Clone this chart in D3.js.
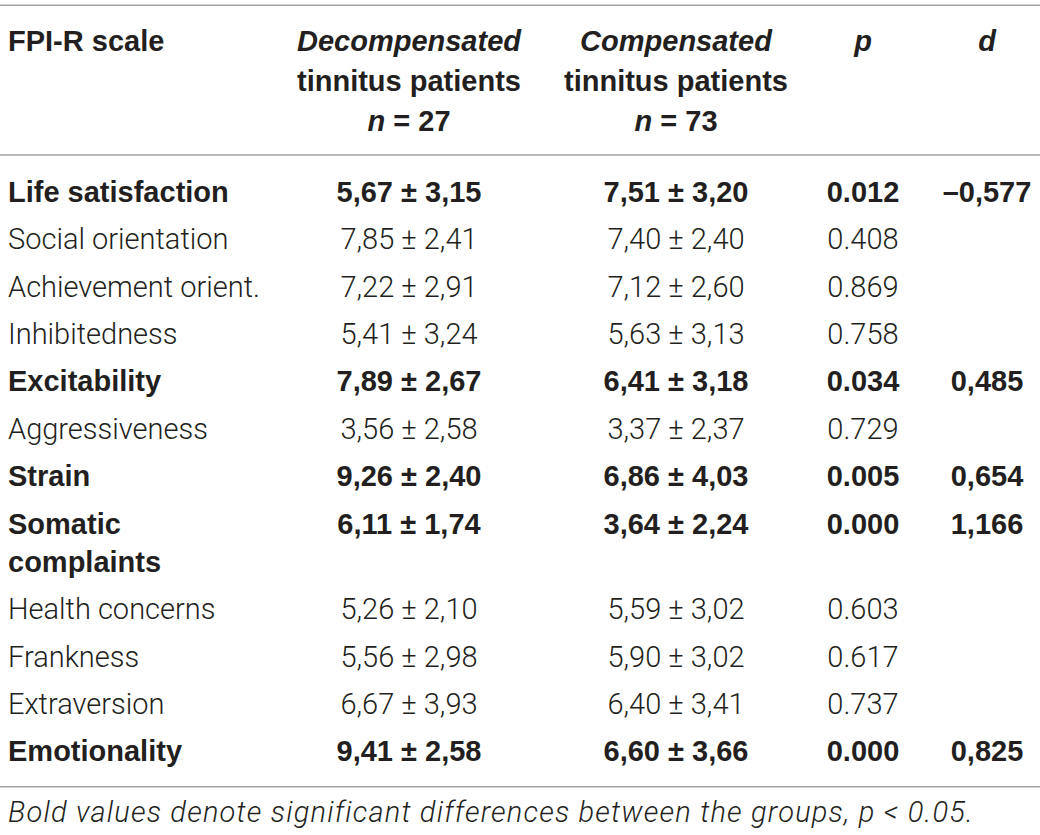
<!DOCTYPE html>
<html>
<head>
<meta charset="utf-8">
<script src="https://cdn.jsdelivr.net/npm/d3@7"></script>
<style>
  body { margin: 0; background: #fff; }
  svg text { font-family: "Liberation Sans", Arial, sans-serif; fill: #231f20; }
  svg .light, svg .light text { font-family: "Roboto", "Liberation Sans", sans-serif; font-weight: 300; }
</style>
</head>
<body>
<div id="table"></div>
<script>
// table content
var scales = ["Life satisfaction", "Social orientation", "Achievement orient.", "Inhibitedness",
  "Excitability", "Aggressiveness", "Strain", "Somatic\ncomplaints", "Health concerns",
  "Frankness", "Extraversion", "Emotionality"];
var decomp = ["5,67 ± 3,15", "7,85 ± 2,41", "7,22 ± 2,91", "5,41 ± 3,24", "7,89 ± 2,67", "3,56 ± 2,58",
  "9,26 ± 2,40", "6,11 ± 1,74", "5,26 ± 2,10", "5,56 ± 2,98", "6,67 ± 3,93", "9,41 ± 2,58"];
var comp = ["7,51 ± 3,20", "7,40 ± 2,40", "7,12 ± 2,60", "5,63 ± 3,13", "6,41 ± 3,18", "3,37 ± 2,37",
  "6,86 ± 4,03", "3,64 ± 2,24", "5,59 ± 3,02", "5,90 ± 3,02", "6,40 ± 3,41", "6,60 ± 3,66"];
var pValues = ["0.012", "0.408", "0.869", "0.758", "0.034", "0.729", "0.005", "0.000", "0.603",
  "0.617", "0.737", "0.000"];
var dValues = ["–0,577", "", "", "", "0,485", "", "0,654", "1,166", "", "", "", "0,825"];
var significant = [true, false, false, false, true, false, true, true, false, false, false, true];
var footnote = "Bold values denote significant differences between the groups, p < 0.05.";

var width = 1040, height = 835;
var fontSize = 29, rowStep = 47.4, lineStep = 38.3;

var svg = d3.select("#table").append("svg")
  .attr("width", width)
  .attr("height", height);

// column anchors
var colKeys = ["scale", "decomp", "comp", "p", "d"];
var colX = d3.scaleOrdinal().domain(colKeys).range([8, 409, 676, 863, 987]);
var colAnchor = d3.scaleOrdinal().domain(colKeys).range(["start", "middle", "middle", "middle", "middle"]);

// rows, one entry per table row
var rows = scales.map(function (s, i) {
  return { lines: s.split("\n"), decomp: decomp[i], comp: comp[i], p: pValues[i], d: dValues[i], bold: significant[i] };
});

// cumulative baselines (row height grows with wrapped lines)
var baselines = [], y0 = 201.7;
rows.forEach(function (r) {
  baselines.push(y0);
  y0 += rowStep + (r.lines.length - 1) * lineStep;
});

// rules
var rules = [5.3, 155, 786.7];
svg.selectAll(".rule")
  .data(rules)
  .enter().append("line")
  .attr("x1", 0).attr("x2", width)
  .attr("y1", function (d) { return d; })
  .attr("y2", function (d) { return d; })
  .attr("stroke", "#a3a3a3")
  .attr("stroke-width", 1.6);

// header
var headerBase = [51.2, 91, 130.7];
var header = svg.append("g").style("font-size", fontSize + "px").style("font-weight", 700);

header.append("text").attr("x", colX("scale")).attr("y", headerBase[0]).text("FPI-R scale");

[["decomp", "Decompensated", "27"], ["comp", "Compensated", "73"]].forEach(function (h) {
  var g = header.append("g").attr("text-anchor", "middle");
  g.append("text").attr("x", colX(h[0])).attr("y", headerBase[0])
    .style("font-style", "italic").text(h[1]);
  g.append("text").attr("x", colX(h[0])).attr("y", headerBase[1]).text("tinnitus patients");
  var t = g.append("text").attr("x", colX(h[0])).attr("y", headerBase[2]);
  t.append("tspan").style("font-style", "italic").text("n");
  t.append("tspan").text(" = " + h[2]);
});

header.append("text").attr("x", colX("p")).attr("y", headerBase[0])
  .attr("text-anchor", "middle").style("font-style", "italic").text("p");
header.append("text").attr("x", colX("d")).attr("y", headerBase[0])
  .attr("text-anchor", "middle").style("font-style", "italic").text("d");

// body
var body = svg.append("g").style("font-size", fontSize + "px");

var row = body.selectAll(".row")
  .data(rows)
  .enter().append("g")
  .attr("class", function (d) { return d.bold ? "row" : "row light"; })
  .attr("transform", function (d, i) { return "translate(0," + baselines[i] + ")"; })
  .style("font-weight", function (d) { return d.bold ? 700 : null; });

row.append("text")
  .attr("x", colX("scale"))
  .selectAll("tspan")
  .data(function (d) { return d.lines; })
  .enter().append("tspan")
  .attr("x", colX("scale"))
  .attr("y", function (d, i) { return i * lineStep; })
  .text(function (d) { return d; });

["decomp", "comp", "p", "d"].forEach(function (k) {
  row.append("text")
    .attr("x", colX(k))
    .attr("text-anchor", colAnchor(k))
    .text(function (d) { return d[k]; });
});

// footnote
svg.append("text")
  .attr("class", "light")
  .attr("x", 8).attr("y", 821.7)
  .style("font-size", fontSize + "px")
  .style("font-style", "italic")
  .style("letter-spacing", "1.2px")
  .text(footnote);
</script>
</body>
</html>
